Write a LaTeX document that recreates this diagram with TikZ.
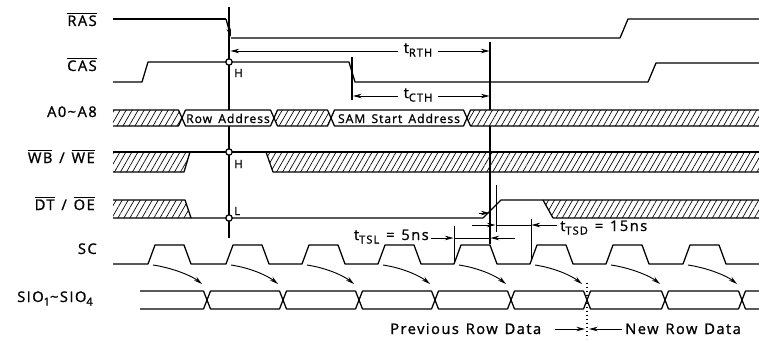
\documentclass[tikz,border=0pt]{standalone}
\usepackage{fontspec}
\setmainfont{Open Sans}[FakeBold=1]
\newfontfamily\lblfont{Open Sans}[LetterSpace=10,FakeBold=1.2,WordSpace=1.3]
\newfontfamily\busfont{Open Sans}[LetterSpace=8,FakeBold=1.2,WordSpace=1.5]
\usetikzlibrary{patterns.meta,arrows.meta}
\newcommand\ovl[1]{\mbox{$\overline{\mbox{#1}}$}}
\newcommand\tsub[1]{\raisebox{-0.45ex}{\fontsize{8.3}{9}\selectfont #1}}
\newcommand\hexpath[5]{(#1,#5) -- ({#1+3.5},#3) -- ({#2-3.5},#3) -- (#2,#5) -- ({#2-3.5},#4) -- ({#1+3.5},#4) -- cycle}
\begin{document}
\begin{tikzpicture}[x=0.75pt,y=-0.75pt, line join=round,
  sig/.style={line width=0.95pt},
  dim/.style={line width=0.7pt},
  arr/.style={-{Stealth[length=6.5pt,width=3.4pt]}},
  darr/.style={{Stealth[length=6.5pt,width=3.4pt]}-{Stealth[length=6.5pt,width=3.4pt]}},
  hatch/.style={pattern={Lines[angle=60,distance=3.9pt,line width=0.5pt]}},
  lbl/.style={font={\lblfont\fontsize{11}{13}\selectfont}, inner sep=0pt, anchor=base east},
  txt/.style={font={\lblfont\fontsize{11}{13}\selectfont}, inner sep=0pt},
  bus/.style={font={\busfont\fontsize{9.1}{11}\selectfont}, inner sep=0pt, anchor=base},
  hl/.style={font={\lblfont\fontsize{8.5}{10}\selectfont}, inner sep=0pt, anchor=base west}]
\useasboundingbox (0,0) rectangle (759,339);

% signal names
\node[lbl] (lras) at (97,26) {\ovl{RAS}};
\node[lbl] (lcas) at (97,71) {\ovl{CAS}};
\node[lbl] (la) at (97,117) {A0\textasciitilde A8};
\node[lbl] (lwb) at (95,163) {\ovl{WB} / \ovl{WE}};
\node[lbl] (ldt) at (95,210) {\ovl{DT} / \ovl{OE}};
\node[lbl] (lsc) at (97,254) {SC};
\node[lbl] (lsio) at (93,302) {SIO\tsub{1}\textasciitilde SIO\tsub{4}};

% RAS
\draw[sig] (113,19) -- (226,19);
\draw[sig,arr] (226,19) -- (231,37);
\draw[sig] (231,38) -- (620,38) -- (628,19) -- (759,19);
% CAS
\draw[sig] (113,82) -- (142,82) -- (148,62) -- (349,62) -- (355,82) -- (648,82) -- (656,63) -- (759,63);

% A bus
\fill[hatch] (113,110) -- (178.5,110) -- (182,118) -- (178.5,126) -- (113,126) -- cycle;
\draw[sig] (113,110) -- (178.5,110) -- (182,118) -- (178.5,126) -- (113,126);
\draw[sig] \hexpath{182}{274}{110}{126}{118};
\draw[sig,hatch] \hexpath{274}{331}{110}{126}{118};
\draw[sig] \hexpath{331}{467}{110}{126}{118};
\fill[hatch] (467,118) -- (470.5,110) -- (759,110) -- (759,126) -- (470.5,126) -- cycle;
\draw[sig] (759,110) -- (470.5,110) -- (467,118) -- (470.5,126) -- (759,126);
\node[bus] (row) at (228,123) {Row Address};
\node[bus] (sam) at (399,123) {SAM Start Address};

% WB/WE
\fill[hatch] (113,152) -- (190,152) -- (184,172) -- (113,172) -- cycle;
\fill[hatch] (266,152) -- (759,152) -- (759,172) -- (273,172) -- cycle;
\draw[sig] (113,152) -- (759,152);
\draw[sig] (113,172) -- (184,172) -- (190,152);
\draw[sig] (266,152) -- (273,172) -- (759,172);

% DT/OE
\fill[hatch] (113,200) -- (185,200) -- (191,218) -- (113,218) -- cycle;
\fill[hatch] (543,200) -- (759,200) -- (759,218) -- (553,218) -- cycle;
\draw[sig] (113,200) -- (185,200) -- (191,218);
\draw[sig] (113,218) -- (483,218) -- (501,200) -- (759,200);
\draw[sig] (543,200) -- (553,218) -- (759,218);

% reference lines
\draw[sig] (229,7) -- (229,110);
\draw[sig] (229,126) -- (229,238);
\draw[sig] (490,42) -- (490,110);
\draw[sig] (490,126) -- (490,244);
\draw[sig] (352,57) -- (352,100);

\foreach \yy in {62,152,218} \filldraw[sig, fill=white] (229,\yy) circle[radius=2.4pt];
\node[hl] (h1) at (234,77) {H};
\node[hl] (h2) at (234,168) {H};
\node[hl] (l1) at (234,215) {L};

% tRTH, tCTH
\draw[dim,darr] (230.5,51) -- (489.5,51);
\node[txt, fill=white, inner xsep=4pt, anchor=base] (trth) at (418,53) {t\tsub{RTH}};
\draw[dim,darr] (353,96) -- (489.5,96);
\node[txt, fill=white, inner xsep=4pt, anchor=base] (tcth) at (418,98) {t\tsub{CTH}};

% DT/OE rise marks
\draw[dim] (496,185) -- (496,232);
\draw[dim,arr] (479,213) -- (489.5,213);

% tTSL
\node[txt, anchor=base east] (ttsl) at (429,240) {t\tsub{TSL} = 5ns};
\draw[dim] (454,226) -- (454,262);
\draw[dim,arr] (431,238) -- (453.5,238);
\draw[dim] (454,238) -- (490,238);
\draw[dim,arr] (515,238) -- (490.5,238);

% tTSD
\draw[dim] (531,219) -- (531,260);
\draw[dim,arr] (472,225) -- (495.5,225);
\draw[dim] (496,225) -- (531,225);
\draw[dim,arr] (557,225) -- (531.5,225);
\node[txt, anchor=base west] (ttsd) at (560,231) {t\tsub{TSD} = 15ns};

% SC
\draw[sig] (113,264) \foreach \s in {148,226,302,378,454,530,606,683} { -- (\s,264) -- ({\s+7},245) -- ({\s+36},245) -- ({\s+43},264) } -- (759,264);

% SIO
\draw[sig] (140,291) -- (203.5,291) -- (207,300) -- (203.5,309) -- (140,309);
\foreach \a/\b in {207/283, 283/359, 359/435, 435/511, 511/587, 587/665, 665/742}
  \draw[sig] \hexpath{\a}{\b}{291}{309}{300};
\draw[sig] (759,291) -- (745.5,291) -- (742,300) -- (745.5,309) -- (759,309);

\foreach \s/\c in {148/207, 226/283, 302/359, 378/435, 454/511, 530/587, 606/665, 683/742}
  \draw[dim,arr] ({\s+5},265) .. controls ({\s+25},268) and ({\c-15},276) .. ({\c-5},284);

\draw[dotted, line width=1pt] (587,283) -- (587,339);

\node[txt, anchor=base west] (prev) at (390,334) {Previous Row Data};
\node[txt, anchor=base west] (new) at (625,334) {New Row Data};
\draw[dim,arr] (555,329) -- (585,329);
\draw[dim,arr] (622,329) -- (589,329);
\end{tikzpicture}
\end{document}
